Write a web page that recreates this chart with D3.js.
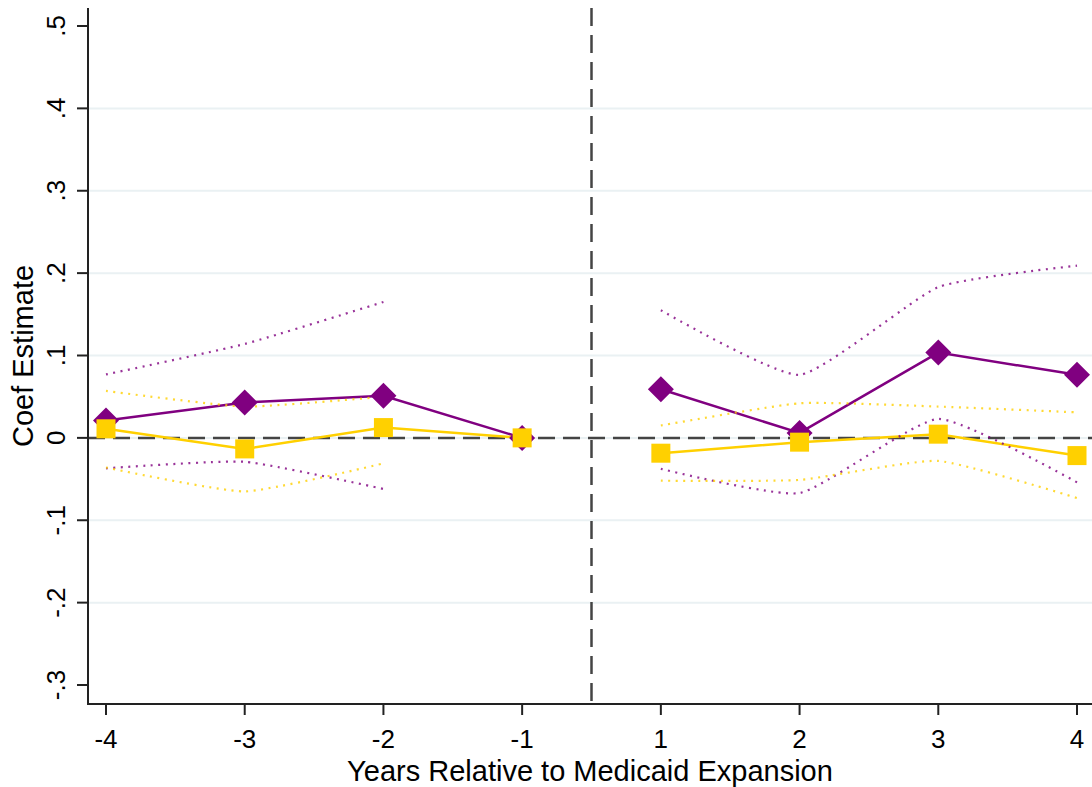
<!DOCTYPE html>
<html><head><meta charset="utf-8">
<script src="https://cdn.jsdelivr.net/npm/d3@7"></script>
<style>body{margin:0;background:#fff}svg{display:block}text{font-family:"Liberation Sans",Arial,sans-serif;fill:#000}</style>
</head><body>
<script>
const categories = ["-4","-3","-2","-1","1","2","3","4"];
const periods = ["pre","pre","pre","pre","post","post","post","post"];
const yTicks = [-0.3,-0.2,-0.1,0,0.1,0.2,0.3,0.4,0.5];
const yTickLabels = ["-.3","-.2","-.1","0",".1",".2",".3",".4",".5"];
const purpleCoef = [0.021,0.043,0.051,0,0.059,0.006,0.1035,0.0765];
const yellowCoef = [0.011,-0.0134,0.0125,0,-0.0186,-0.0052,0.0045,-0.0215];
const purpleHi = [0.077,0.114,0.165,null,0.155,0.0765,0.183,0.209];
const purpleLo = [-0.037,-0.029,-0.062,null,-0.0376,-0.067,0.023,-0.054];
const yellowHi = [0.057,0.038,0.05,null,0.015,0.042,0.038,0.031];
const yellowLo = [-0.036,-0.065,-0.031,null,-0.052,-0.051,-0.028,-0.073];

(function(){
const W=1092,H=787;
const svg=d3.select("body").append("svg").attr("width",W).attr("height",H);
const x=d3.scalePoint().domain(categories).range([106,1077]);
const y=d3.scaleLinear().domain([-0.3,0.5]).range([685,26]);
const pLeft=88,pBottom=704,pTop=8,pRight=W;
const PURPLE="#800080",GOLD="#FFD000";

svg.append("g").selectAll("line").data(yTicks.filter(t=>t>-0.3&&t<0.5)).join("line")
 .attr("x1",pLeft).attr("x2",pRight).attr("y1",d=>y(d)).attr("y2",d=>y(d))
 .attr("stroke","#eaf1f3").attr("stroke-width",2);

svg.append("line").attr("x1",pLeft).attr("x2",pRight).attr("y1",y(0)).attr("y2",y(0))
 .attr("stroke","#444").attr("stroke-width",2.5).attr("stroke-dasharray","17,8");
const xMid=(x("-1")+x("1"))/2;
svg.append("line").attr("x1",xMid).attr("x2",xMid).attr("y1",pTop).attr("y2",pBottom)
 .attr("stroke","#444").attr("stroke-width",2.5).attr("stroke-dasharray","18,9");

const idx=categories.map((c,i)=>i);
const groups=["pre","post"].map(p=>idx.filter(i=>periods[i]===p));
function mainLine(vals,color){
  groups.forEach(g=>{
    svg.append("path").attr("d",d3.line().x(i=>x(categories[i])).y(i=>y(vals[i]))(g))
     .attr("fill","none").attr("stroke",color).attr("stroke-width",2.5);
  });
}
function ciLine(vals,color){
  const g=d3.line().defined(i=>vals[i]!==null).x(i=>x(categories[i])).y(i=>y(vals[i])).curve(d3.curveCardinal.tension(0.5));
  svg.append("path").attr("d",g(idx)).attr("fill","none").attr("stroke",color)
   .attr("stroke-width",2.2).attr("stroke-dasharray","2,5.5").attr("opacity",0.8);
}
mainLine(purpleCoef,PURPLE);
mainLine(yellowCoef,GOLD);
ciLine(purpleHi,PURPLE);ciLine(purpleLo,PURPLE);
ciLine(yellowHi,GOLD);ciLine(yellowLo,GOLD);

svg.append("g").selectAll("path").data(idx).join("path")
 .attr("d",d3.symbol().type(d3.symbolSquare).size(338))
 .attr("transform",i=>`translate(${x(categories[i])},${y(purpleCoef[i])}) rotate(45)`)
 .attr("fill",PURPLE);
svg.append("g").selectAll("rect").data(idx).join("rect")
 .attr("x",i=>x(categories[i])-9.5).attr("y",i=>y(yellowCoef[i])-9.5)
 .attr("width",19).attr("height",19).attr("fill",GOLD);

svg.append("line").attr("x1",pLeft).attr("x2",pLeft).attr("y1",pTop).attr("y2",pBottom+1).attr("stroke","#222").attr("stroke-width",2);
svg.append("line").attr("x1",pLeft-1).attr("x2",pRight).attr("y1",pBottom).attr("y2",pBottom).attr("stroke","#222").attr("stroke-width",2);
svg.append("g").selectAll("line").data(yTicks).join("line")
 .attr("x1",pLeft-11).attr("x2",pLeft).attr("y1",d=>y(d)).attr("y2",d=>y(d)).attr("stroke","#222").attr("stroke-width",2);
svg.append("g").selectAll("text").data(yTicks).join("text")
 .attr("transform",d=>`translate(65,${y(d)}) rotate(-90)`).attr("text-anchor","middle")
 .attr("font-size",26).text((d,i)=>yTickLabels[i]);
svg.append("g").selectAll("line").data(categories).join("line")
 .attr("x1",d=>x(d)).attr("x2",d=>x(d)).attr("y1",pBottom).attr("y2",pBottom+11).attr("stroke","#222").attr("stroke-width",2);
svg.append("g").selectAll("text").data(categories).join("text")
 .attr("x",d=>x(d)).attr("y",748).attr("text-anchor","middle").attr("font-size",26).text(d=>d);
svg.append("text").attr("x",(pLeft+pRight)/2).attr("y",781).attr("text-anchor","middle").attr("font-size",29)
 .text("Years Relative to Medicaid Expansion");
svg.append("text").attr("transform",`translate(33,${(pTop+pBottom)/2}) rotate(-90)`).attr("text-anchor","middle").attr("font-size",29)
 .text("Coef Estimate");
})();
</script>
</body></html>
